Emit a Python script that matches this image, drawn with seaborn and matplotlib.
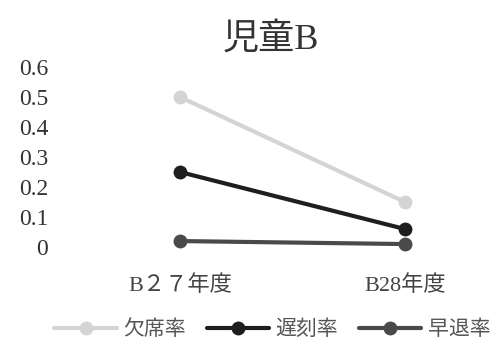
import pandas as pd
import seaborn as sns
import matplotlib.pyplot as plt

years = ["B２７年度", "B28年度"]
absence = [0.50, 0.15]   # 欠席率
late = [0.25, 0.06]      # 遅刻率
early = [0.02, 0.01]     # 早退率
y_ticks = [0, 0.1, 0.2, 0.3, 0.4, 0.5, 0.6]
y_labels = ["0", "0.1", "0.2", "0.3", "0.4", "0.5", "0.6"]

sns.set_style("white")
plt.rcParams['font.family'] = ['Liberation Serif', 'Noto Sans CJK JP', 'DejaVu Sans']

df = pd.DataFrame({
    "year": years * 3,
    "rate": absence + late + early,
    "kind": ["欠席率"] * 2 + ["遅刻率"] * 2 + ["早退率"] * 2,
})

fig = plt.figure(figsize=(4.97, 3.47), dpi=100)
ax = fig.add_axes([0.181, 0.288, 0.815, 0.519])

palette = {"欠席率": "#d4d4d4", "遅刻率": "#1e1e1e", "早退率": "#4a4a4a"}
sns.lineplot(data=df, x="year", y="rate", hue="kind", palette=palette,
             marker="o", markersize=10, linewidth=3, markeredgewidth=0,
             sort=False, ax=ax)

ax.set_xlim(-0.4, 1.4)
ax.set_ylim(0, 0.6)
ax.set_yticks(y_ticks)
ax.set_yticklabels(y_labels, fontsize=17, color="#333333")
ax.tick_params(axis="y", length=0, pad=30)
ax.tick_params(axis="x", length=0, pad=20, labelsize=16, labelcolor="#444444")
ax.set_xlabel("")
ax.set_ylabel("")
for s in ax.spines.values():
    s.set_visible(False)
for line in ax.lines:
    line.set_clip_on(False)

fig.text(0.545, 0.885, "児童B", ha="center", va="center", fontsize=26, color="#333333")

ax.legend(loc="center", bbox_to_anchor=(0.45, -0.46), ncol=3, frameon=False,
          fontsize=15, handlelength=3, columnspacing=1.0, handletextpad=0.3,
          labelcolor="#555555")

fig.savefig("out.png", dpi=100)
